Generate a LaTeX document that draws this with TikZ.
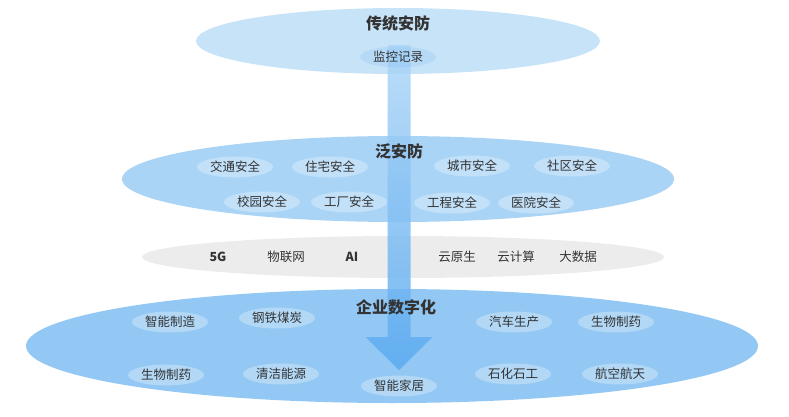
\documentclass[tikz,border=0pt]{standalone}
\usepackage{fontspec}
\setmainfont{Noto Sans CJK SC}
\usepackage{xcolor}
\usetikzlibrary{shapes.geometric, positioning, calc}
\definecolor{tradblue}{HTML}{C7E3F8}
\definecolor{panblue}{HTML}{A9D4F6}
\definecolor{techgray}{HTML}{ECECEC}
\definecolor{entblue}{HTML}{92C8F3}
\definecolor{arrowtop}{HTML}{B0D7F7}
\definecolor{arrowmid}{HTML}{92C7F2}
\definecolor{arrowbot}{HTML}{5AAAF0}
\definecolor{txtgray}{HTML}{333333}

\begin{document}
\begin{tikzpicture}[x=1pt, y=-1pt,
    layer/.style={ellipse, inner sep=0pt},
    tag/.style={ellipse, fill=white, fill opacity=0.3, text opacity=1, minimum width=76pt, minimum height=21pt, inner sep=0pt, text=txtgray, font=\fontsize{12.5}{14}\selectfont},
    tech/.style={text=txtgray, font=\fontsize{12.5}{14}\selectfont},
    title/.style={text=txtgray, font=\fontsize{16}{18}\selectfont\bfseries}]
    \useasboundingbox (0,0) rectangle (789,417);

    % 四层椭圆
    \node[layer, fill=tradblue, minimum width=404pt, minimum height=66pt] (trad) at (398,41) {};
    \node[layer, fill=panblue, minimum width=552pt, minimum height=86pt] (pan) at (398,179) {};
    \node[layer, fill=techgray, minimum width=522pt, minimum height=42pt] (tech) at (403,257) {};
    \node[layer, fill=entblue, minimum width=732pt, minimum height=114pt] (ent) at (392,346) {};

    % 贯穿箭头
    \coordinate (arrow top) at (399,45);
    \coordinate (arrow tip) at (399,370);
    \shade[top color=arrowtop, middle color=arrowmid, bottom color=arrowbot, fill opacity=0.85]
        ($(arrow top)+(-11.5,0)$) -- ($(arrow top)+(11.5,0)$) -- ($(arrow tip)+(11.5,-33)$)
        -- ($(arrow tip)+(33.5,-33)$) -- (arrow tip) -- ($(arrow tip)+(-33.5,-33)$)
        -- ($(arrow tip)+(-11.5,-33)$) -- cycle;

    % 传统安防
    \node[title] (tradtitle) at (398,23) {传统安防};
    \node[tag, fill=arrowbot, fill opacity=0.15] (jk) at (398,57) {监控记录};

    % 泛安防
    \node[title] (pantitle) at (399,151) {泛安防};
    \foreach \n/\x/\y/\t in {p1/235/167/交通安全, p2/330/167/住宅安全, p3/472/166/城市安全, p4/572/166/社区安全,
                             p5/262/202/校园安全, p6/349/202/工厂安全, p7/452/203/工程安全, p8/536/203/医院安全} {
        \node[tag] (\n) at (\x,\y) {\t};
    }

    % 技术底座
    \node[tech, font=\fontsize{12.5}{14}\selectfont\bfseries] (t1) at (218,257) {5G};
    \node[tech] (t2) at (286,257) {物联网};
    \node[tech, font=\fontsize{12.5}{14}\selectfont\bfseries] (t3) at (352,257) {AI};
    \node[tech] (t4) at (457,257) {云原生};
    \node[tech] (t5) at (516,257) {云计算};
    \node[tech] (t6) at (578,257) {大数据};

    % 企业数字化
    \node[title] (enttitle) at (396,307) {企业数字化};
    \foreach \n/\x/\y/\t in {e1/170/322/智能制造, e2/277/318/钢铁煤炭, e3/514/322/汽车生产, e4/616/322/生物制药,
                             e5/166/375/生物制药, e6/281/374/清洁能源, e7/399/386/智能家居, e8/513/374/石化石工, e9/620/374/航空航天} {
        \node[tag] (\n) at (\x,\y) {\t};
    }
\end{tikzpicture}
\end{document}
